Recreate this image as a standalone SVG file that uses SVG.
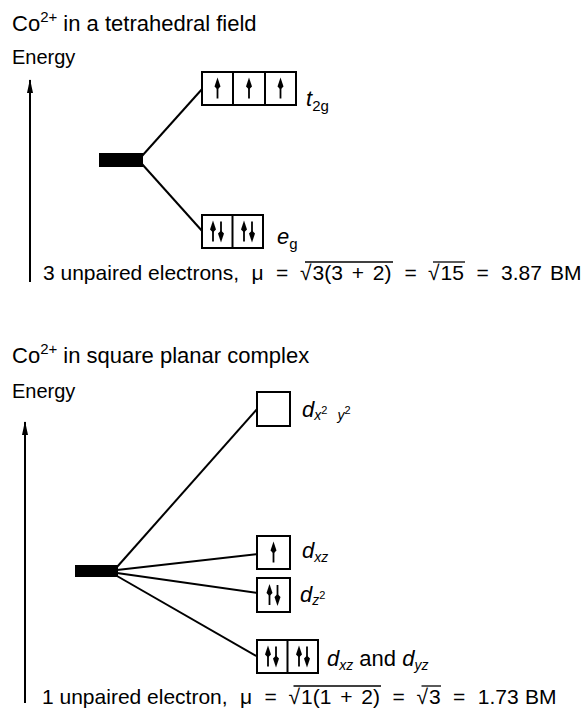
<svg xmlns="http://www.w3.org/2000/svg" width="587" height="712" viewBox="0 0 587 712">
<style>
text{font-family:"Liberation Sans",Arial,sans-serif;fill:#000}
.t{font-size:22px}
.e{font-size:20px}
.f{font-size:21px}
.i{font-style:italic}
.box{fill:#fff;stroke:#000;stroke-width:2}
.ln{stroke:#000;stroke-width:2;fill:none}
.ax{stroke:#000;stroke-width:2;fill:none;marker-end:url(#ah)}
.vin{stroke:#000;stroke-width:1.3}
</style>
<defs>
<marker id="ah" viewBox="0 0 14 8" refX="13" refY="4" markerWidth="14" markerHeight="8" markerUnits="userSpaceOnUse" orient="auto"><path d="M0,1 L14,4 L0,7 Z" fill="#000"/></marker>
<g id="up"><line x1="0" y1="10" x2="0" y2="-2" stroke="#000" stroke-width="1.8"/><path d="M0,-11 L3,-2 L0,1 L-3,-2 Z" fill="#000"/></g>
<g id="dn"><use href="#up" transform="rotate(180)"/></g>
</defs>
<rect width="587" height="712" fill="#fff"/>

<g id="tetrahedral">
<text id="title1" class="t" x="12" y="31">Co<tspan font-size="15" dy="-9">2+</tspan><tspan dy="9"> in a tetrahedral field</tspan></text>
<text id="energy1" class="e" x="12" y="64">Energy</text>
</g>

<g id="connectors">
<line class="ax" x1="30" y1="282" x2="30" y2="80"/>
<line class="ln" x1="142" y1="156" x2="203" y2="88"/>
<line class="ln" x1="142" y1="164" x2="203" y2="232"/>
<line class="ax" x1="25" y1="703" x2="25" y2="422"/>
<line class="ln" x1="117" y1="567" x2="258" y2="408"/>
<line class="ln" x1="117" y1="570" x2="258" y2="554"/>
<line class="ln" x1="117" y1="573" x2="258" y2="593"/>
<line class="ln" x1="117" y1="576" x2="258" y2="657"/>
</g>

<g id="bar1"><rect x="99" y="153" width="44" height="14" fill="#000"/></g>

<g id="t2g">
<rect class="box" x="202" y="72" width="94" height="33"/>
<line class="ln" x1="233" y1="72" x2="233" y2="105"/>
<line class="ln" x1="265" y1="72" x2="265" y2="105"/>
<use href="#up" x="217.5" y="88.5"/>
<use href="#up" x="249" y="88.5"/>
<use href="#up" x="280.5" y="88.5"/>
<text class="t" x="306" y="106"><tspan class="i">t</tspan><tspan font-size="15" dy="5">2g</tspan></text>
</g>

<g id="eg">
<rect class="box" x="202" y="215" width="61" height="33"/>
<line class="ln" x1="232.5" y1="215" x2="232.5" y2="248"/>
<use href="#up" x="213" y="231.5"/>
<use href="#dn" x="221" y="231.5"/>
<use href="#up" x="244" y="231.5"/>
<use href="#dn" x="252" y="231.5"/>
<text class="t" x="277" y="244"><tspan class="i">e</tspan><tspan font-size="15" dy="5">g</tspan></text>
</g>

<g id="formula1" class="f">
<text x="43" y="280">3 unpaired electrons,</text>
<text x="251.5" y="280">μ</text>
<text x="276" y="280">=</text>
<text x="300" y="280">√</text>
<text x="312.5" y="280">3(3 <tspan dx="3">+</tspan> <tspan dx="3">2)</tspan></text>
<line class="vin" x1="305" y1="262" x2="393" y2="262"/>
<text x="404.5" y="280">=</text>
<text x="428" y="280">√</text>
<text x="440.5" y="280">15</text>
<line class="vin" x1="433" y1="262" x2="465" y2="262"/>
<text x="476.5" y="280">=</text>
<text x="501" y="280">3.87</text>
<text x="550" y="280">BM</text>
</g>

<g id="squareplanar">
<text id="title2" class="t" x="12" y="363">Co<tspan font-size="15" dy="-9">2+</tspan><tspan dy="9"> in square planar complex</tspan></text>
<text id="energy2" class="e" x="12" y="398">Energy</text>
</g>

<g id="bar2"><rect x="75" y="565" width="43" height="12" fill="#000"/></g>

<g id="dx2y2">
<rect class="box" x="257" y="392" width="33" height="34"/>
<text class="t i" x="302" y="417">d<tspan font-size="14" dy="3">x</tspan><tspan font-size="11" dy="-6" font-style="normal">2</tspan><tspan font-size="14" dy="6" dx="10">y</tspan><tspan font-size="11" dy="-6" font-style="normal">2</tspan></text>
</g>

<g id="dxz">
<rect class="box" x="257" y="536" width="33" height="33"/>
<use href="#up" x="273.5" y="552.5"/>
<text class="t i" x="302" y="558">d<tspan font-size="14" dy="4">xz</tspan></text>
</g>

<g id="dz2">
<rect class="box" x="257" y="578" width="33" height="34"/>
<use href="#up" x="269.5" y="595"/>
<use href="#dn" x="277.5" y="595"/>
<text class="t i" x="300" y="602">d<tspan font-size="14" dy="3">z</tspan><tspan font-size="11" dy="-6" font-style="normal">2</tspan></text>
</g>

<g id="dxzdyz">
<rect class="box" x="257" y="640" width="61" height="33"/>
<line class="ln" x1="287.5" y1="640" x2="287.5" y2="673"/>
<use href="#up" x="268" y="656.5"/>
<use href="#dn" x="276" y="656.5"/>
<use href="#up" x="299" y="656.5"/>
<use href="#dn" x="307" y="656.5"/>
<text class="t" x="327" y="666"><tspan class="i">d</tspan><tspan class="i" font-size="14" dy="4">xz</tspan><tspan dy="-4"> and </tspan><tspan class="i">d</tspan><tspan class="i" font-size="14" dy="4">yz</tspan></text>
</g>

<g id="formula2" class="f">
<text x="42" y="704">1 unpaired electron,</text>
<text x="240" y="704">μ</text>
<text x="264.6" y="704">=</text>
<text x="288.5" y="704">√</text>
<text x="301" y="704">1(1 <tspan dx="3">+</tspan> <tspan dx="3">2)</tspan></text>
<line class="vin" x1="293.5" y1="686" x2="381" y2="686"/>
<text x="392.5" y="704">=</text>
<text x="416.5" y="704">√</text>
<text x="429" y="704">3</text>
<line class="vin" x1="421.5" y1="686" x2="441" y2="686"/>
<text x="453" y="704">=</text>
<text x="477.8" y="704">1.73</text>
<text x="525" y="704">BM</text>
</g>
</svg>
